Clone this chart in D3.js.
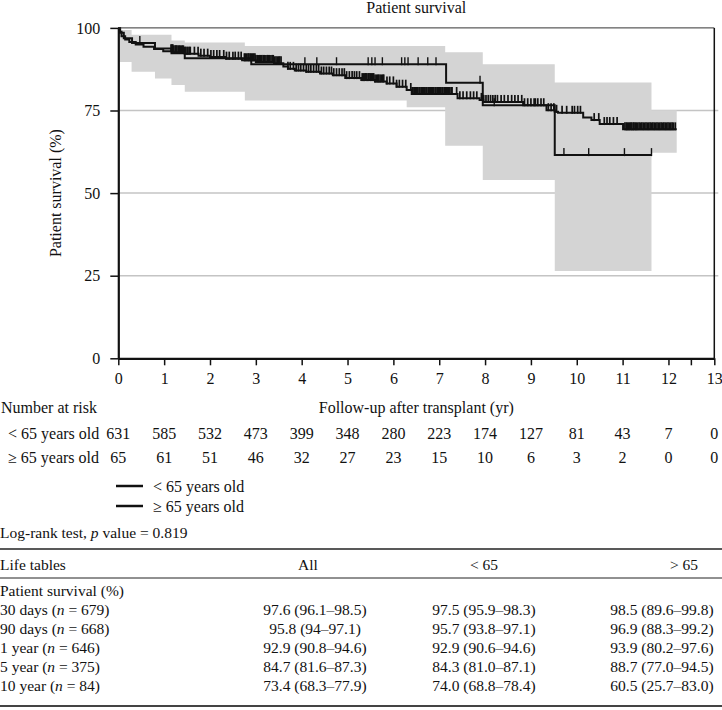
<!DOCTYPE html>
<html><head><meta charset="utf-8">
<script src="https://cdn.jsdelivr.net/npm/d3@7"></script>
<style>
body{margin:0;background:#fff}
svg{display:block}
text{font-family:"Liberation Serif","Times New Roman",serif;fill:#111}
</style>
</head><body>
<svg id="c" width="722" height="710"></svg>
<script>
// ---------- data ----------
const xTicks = [0,1,2,3,4,5,6,7,8,9,10,11,12,13];
const xMinorTicks = [12.5];
const yTicks = [0,25,50,75,100];
const yGrid = [25,50,75];

// confidence band (step)
const bandTimes = [0, 0.29, 0.80, 1.16, 1.45, 2.76, 6.29, 7.13, 7.95, 9.52, 11.63, 12.18];
const bandLower = [89.7, 86.7, 84.7, 82.7, 80.7, 78.0, 76.0, 64.3, 54.0, 26.4, 62.2, 62.2];
const bandUpper = [99.4, 97.9, 97.9, 96.2, 95.6, 94.5, 94.5, 92.6, 89.0, 83.5, 75.1, 75.1];

// < 65 years old KM curve
const youngTimes = [0,0.03,0.07,0.15,0.24,0.38,0.55,0.78,0.98,1.2,1.45,1.75,2.0,2.35,2.7,3.0,3.4,3.6,3.7,3.85,4.1,4.4,4.68,4.95,5.3,5.6,5.85,6.07,6.29,6.4,7.4,7.88,7.96,8.83,9.34,9.52,9.59,10.14,10.32,10.5,11.01,12.18];
const youngSurv  = [100,98.8,97.5,96.5,95.7,95.0,94.3,93.6,92.9,92.6,92.2,91.6,91.2,90.7,90.2,89.7,89.3,88.3,87.6,87.1,86.7,86.2,85.7,84.8,84.2,83.8,83.2,82.2,81.2,80.0,78.7,78.2,77.6,76.6,75.1,74.6,74.3,72.9,72.1,70.9,69.3,69.3];

// >= 65 years old KM curve
const oldTimes = [0,0.04,0.12,0.3,0.8,1.16,1.45,2.9,7.15,7.95,9.52,11.63];
const oldSurv  = [100,98.5,96.9,95.4,93.8,92.3,90.8,89.0,83.4,76.6,61.5,61.5];

// censoring times
const youngCensor = [1.15,1.17,1.19,1.21,1.24,1.26,1.28,1.31,1.33,1.35,1.38,1.4,1.42,1.45,1.47,1.5,1.52,1.55,1.57,
 1.66,1.74,1.8,1.87,1.95,2.02,2.08,2.15,2.21,2.3,2.36,2.42,2.5,2.55,2.62,2.68,
 2.75,2.77,2.8,2.83,2.85,2.88,2.9,2.93,2.95,2.98,3.0,3.03,3.05,3.08,3.1,3.13,3.16,3.19,3.22,3.25,3.27,3.3,3.33,3.36,3.38,3.41,3.44,3.47,3.5,3.52,3.55,
 3.7,3.75,3.82,3.88,3.93,3.98,4.04,4.1,4.15,4.2,4.26,4.32,4.37,4.43,4.48,4.54,4.6,4.65,4.7,4.76,4.82,4.88,4.93,4.98,5.04,5.1,5.15,5.2,5.26,
 5.32,5.35,5.37,5.4,5.42,5.45,5.47,5.5,5.52,5.55,5.57,5.6,5.63,5.66,5.68,5.71,5.74,5.77,5.79,
 5.86,5.92,6.0,6.07,6.13,6.2,6.27,
 6.38,6.41,6.43,6.46,6.48,6.51,6.53,6.56,6.58,6.61,6.63,6.66,6.68,6.71,6.73,6.76,6.78,6.81,6.83,6.86,6.88,6.91,6.93,6.96,6.98,7.01,7.03,7.06,7.08,7.11,7.13,7.16,7.18,7.21,7.23,7.26,7.28,
 7.38,7.45,7.52,7.6,7.68,7.75,7.82,
 7.92,7.97,8.02,8.07,8.12,8.17,8.22,8.27,
 8.35,8.42,8.5,8.58,8.65,8.72,8.8,8.86,8.93,9.0,9.07,9.15,9.22,9.28,
 9.38,9.44,9.5,9.56,
 9.68,9.78,9.9,9.95,10.02,10.08,
 10.38,10.48,10.6,10.66,10.72,10.8,10.88,
 11.05,11.08,11.1,11.13,11.15,11.18,11.2,11.23,11.25,11.28,11.3,11.33,11.36,11.39,11.42,11.45,11.48,11.51,11.54,11.57,11.6,11.63,11.66,11.69,11.72,11.75,11.78,11.81,11.84,11.87,11.9,11.93,11.96,11.99,12.02,12.05,12.08,12.11,12.15];
const oldCensor = [0.47,4.07,4.33,4.76,5.45,5.53,5.6,5.76,6.18,6.25,6.32,6.54,6.75,6.93,7.89,8.2,9.1,9.72,10.26,11.04,11.63];

// number at risk
const groupNames = ["< 65 years old","\u2265 65 years old"];
const riskYoung = [631,585,532,473,399,348,280,223,174,127,81,43,7,0];
const riskOld   = [65,61,51,46,32,27,23,15,10,6,3,2,0,0];

// life table
const tableHeaders = ["Life tables","All","< 65","> 65"];
const rowPeriods = ["30 days","90 days","1 year","5 year","10 year"];
const rowN = [679,668,646,375,84];
const colAll   = ["97.6 (96.1\u201398.5)","95.8 (94\u201397.1)","92.9 (90.8\u201394.6)","84.7 (81.6\u201387.3)","73.4 (68.3\u201377.9)"];
const colYoung = ["97.5 (95.9\u201398.3)","95.7 (93.8\u201397.1)","92.9 (90.6\u201394.6)","84.3 (81.0\u201387.1)","74.0 (68.8\u201378.4)"];
const colOld   = ["98.5 (89.6\u201399.8)","96.9 (88.3\u201399.2)","93.9 (80.2\u201397.6)","88.7 (77.0\u201394.5)","60.5 (25.7\u201383.0)"];
const pValue = "0.819";

// ---------- drawing ----------
const svg = d3.select("#c");
const X0 = 118.3, X1 = 714.3, Y0 = 358.3, Y1 = 27.9;
const x = d3.scaleLinear().domain([0,13]).range([X0,X1]);
const y = d3.scaleLinear().domain([0,100]).range([Y0,Y1]);
const FS = 16;

// gridlines
svg.append("g").selectAll("line").data(yGrid).join("line")
  .attr("x1",X0).attr("x2",X1+4).attr("y1",d=>y(d)).attr("y2",d=>y(d))
  .attr("stroke","#c4c4c4").attr("stroke-width",1.5);

// band
const bandData = bandTimes.map((t,i)=>({t,lo:bandLower[i],hi:bandUpper[i]}));
svg.append("path").datum(bandData)
  .attr("d", d3.area().curve(d3.curveStepAfter).x(d=>x(d.t)).y0(d=>y(d.lo)).y1(d=>y(d.hi)))
  .attr("fill","#d4d4d4");

// curves
function stepPts(ts,vs){return ts.map((t,i)=>[t,vs[i]]);}
const line = d3.line().curve(d3.curveStepAfter).x(d=>x(d[0])).y(d=>y(d[1]));
svg.append("path").datum(stepPts(oldTimes,oldSurv)).attr("d",line)
  .attr("fill","none").attr("stroke","#111").attr("stroke-width",2);
svg.append("path").datum(stepPts(youngTimes,youngSurv)).attr("d",line)
  .attr("fill","none").attr("stroke","#111").attr("stroke-width",2);

function survAt(ts,vs,t){let s=vs[0];for(let i=0;i<ts.length;i++){if(ts[i]<=t)s=vs[i];}return s;}
function censorMarks(cs,ts,vs,w){
  svg.append("g").selectAll("line").data(cs).join("line")
    .attr("x1",d=>x(d)).attr("x2",d=>x(d))
    .attr("y1",d=>y(survAt(ts,vs,d))+1).attr("y2",d=>y(survAt(ts,vs,d))-7)
    .attr("stroke","#111").attr("stroke-width",w);
}
censorMarks(youngCensor,youngTimes,youngSurv,1.7);
censorMarks(oldCensor,oldTimes,oldSurv,1.4);

// borders (top/right)
svg.append("line").attr("x1",X0).attr("x2",X1).attr("y1",Y1).attr("y2",Y1).attr("stroke","#333").attr("stroke-width",1);
svg.append("line").attr("x1",X1).attr("x2",X1).attr("y1",Y1).attr("y2",Y0).attr("stroke","#111").attr("stroke-width",1.5);

// axes
const yAxis = svg.append("g").attr("transform",`translate(${X0},0)`)
  .call(d3.axisLeft(y).tickValues(yTicks).tickSize(8).tickSizeOuter(0).tickPadding(10));
const xAxis = svg.append("g").attr("transform",`translate(0,${Y0})`)
  .call(d3.axisBottom(x).tickValues(xTicks).tickSize(7).tickSizeOuter(0).tickPadding(7));
xAxis.append("g").selectAll("line").data(xMinorTicks).join("line")
  .attr("x1",d=>x(d)).attr("x2",d=>x(d)).attr("y1",0).attr("y2",7).attr("stroke","#111").attr("stroke-width",1.5);
[yAxis,xAxis].forEach(g=>{
  g.select(".domain").attr("stroke","#111").attr("stroke-width",2.2);
  g.selectAll(".tick line").attr("stroke","#111").attr("stroke-width",1.5);
  g.selectAll(".tick text").attr("font-size",FS).attr("font-family",'"Liberation Serif",serif').attr("fill","#111");
});

// titles
svg.append("text").attr("x",(X0+X1)/2).attr("y",13).attr("text-anchor","middle").attr("font-size",FS).text("Patient survival");
svg.append("text").attr("transform",`translate(61,${(Y0+Y1)/2}) rotate(-90)`).attr("text-anchor","middle").attr("font-size",FS).text("Patient survival (%)");
svg.append("text").attr("x",(X0+X1)/2).attr("y",413).attr("text-anchor","middle").attr("font-size",FS).text("Follow-up after transplant (yr)");
svg.append("text").attr("x",1).attr("y",413).attr("font-size",FS).text("Number at risk");

// number at risk
[riskYoung,riskOld].forEach((arr,gi)=>{
  const by = 439 + gi*24;
  svg.append("text").attr("x",8).attr("y",by).attr("font-size",FS).text(groupNames[gi]);
  svg.append("g").selectAll("text").data(arr).join("text")
    .attr("x",(d,i)=>x(xTicks[i])).attr("y",by).attr("text-anchor","middle").attr("font-size",FS).text(d=>d);
});

// legend
groupNames.forEach((g,i)=>{
  const ly = 486 + i*20;
  svg.append("line").attr("x1",116).attr("x2",143).attr("y1",ly).attr("y2",ly).attr("stroke","#111").attr("stroke-width",2.5);
  svg.append("text").attr("x",153).attr("y",ly+6).attr("font-size",FS).text(g);
});

// log-rank
const TF = 15.5;
const lr = svg.append("text").attr("x",0).attr("y",538).attr("font-size",TF);
lr.append("tspan").text("Log-rank test, ");
lr.append("tspan").attr("font-style","italic").text("p");
lr.append("tspan").text(" value = " + pValue);

// table
const colX = [0, 308, 484, 684];
const dataX = [0, 315, 484, 662];
svg.append("line").attr("x1",0).attr("x2",722).attr("y1",549).attr("y2",549).attr("stroke","#222").attr("stroke-width",1.6);
tableHeaders.forEach((h,i)=>{
  svg.append("text").attr("x",colX[i]).attr("y",570).attr("text-anchor",i===0?"start":"middle").attr("font-size",TF).text(h);
});
svg.append("line").attr("x1",0).attr("x2",722).attr("y1",578).attr("y2",578).attr("stroke","#222").attr("stroke-width",1);
svg.append("text").attr("x",0).attr("y",596).attr("font-size",TF).text("Patient survival (%)");
rowPeriods.forEach((p,i)=>{
  const by = 615 + i*19;
  const t = svg.append("text").attr("x",0).attr("y",by).attr("font-size",TF);
  t.append("tspan").text(p + " (");
  t.append("tspan").attr("font-style","italic").text("n");
  t.append("tspan").text(" = " + rowN[i] + ")");
  [colAll,colYoung,colOld].forEach((col,ci)=>{
    svg.append("text").attr("x",dataX[ci+1]).attr("y",by).attr("text-anchor","middle").attr("font-size",TF).text(col[i]);
  });
});
svg.append("line").attr("x1",0).attr("x2",722).attr("y1",706).attr("y2",706).attr("stroke","#444").attr("stroke-width",1.8);
</script>
</body></html>
